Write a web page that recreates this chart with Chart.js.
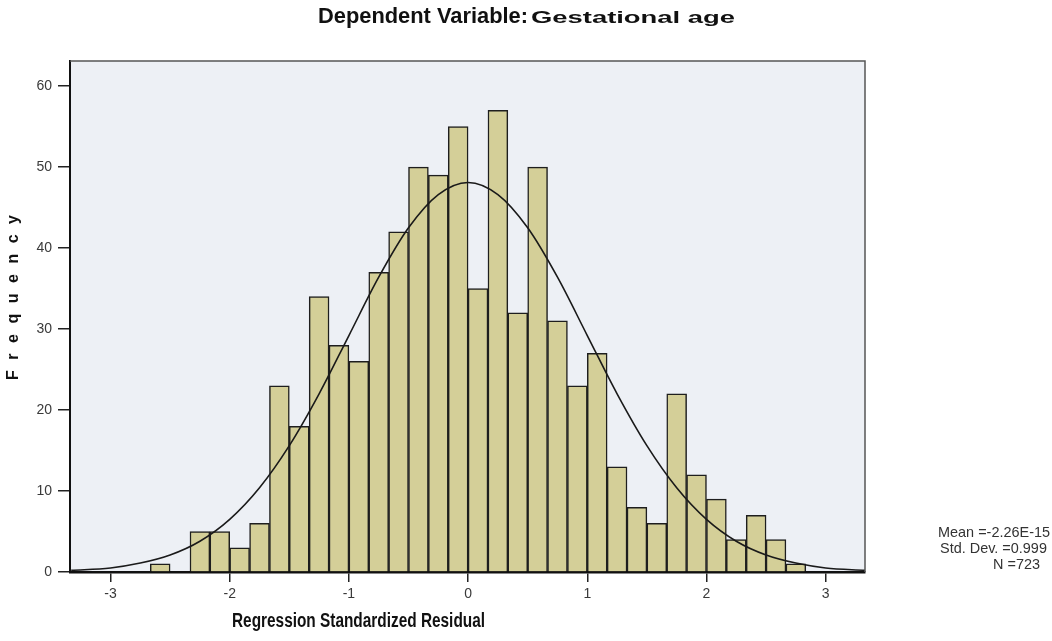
<!DOCTYPE html>
<html>
<head>
<meta charset="utf-8">
<script src="https://cdn.jsdelivr.net/npm/chart.js@4.4.1/dist/chart.umd.min.js"></script>
<style>
  body { margin: 0; background: #fff; }
  #wrap { width: 1052px; height: 641px; position: relative; }
</style>
</head>
<body>
<div id="wrap"><canvas id="histo"></canvas></div>
<script>
// bin centres (bin width 1/6) and counts
var binCenters = [-2.5833, -2.4167, -2.25, -2.0833, -1.9167, -1.75, -1.5833, -1.4167, -1.25, -1.0833,
  -0.9167, -0.75, -0.5833, -0.4167, -0.25, -0.0833, 0.0833, 0.25, 0.4167, 0.5833,
  0.75, 0.9167, 1.0833, 1.25, 1.4167, 1.5833, 1.75, 1.9167, 2.0833, 2.25, 2.4167, 2.5833, 2.75];
var counts = [1, 0, 5, 5, 3, 6, 23, 18, 34, 28,
  26, 37, 42, 50, 49, 55, 35, 57, 32, 50,
  31, 23, 27, 13, 8, 6, 22, 12, 9, 4, 7, 4, 1];

// normal curve
var curveX = [-3.33, -3, -2.75, -2.5, -2.25, -2, -1.75, -1.5, -1.25, -1, -0.75, -0.5, -0.25, 0,
  0.25, 0.5, 0.75, 1, 1.25, 1.5, 1.75, 2, 2.25, 2.5, 2.75, 3, 3.33];
var curveY = [0.2, 0.5, 1.1, 2.1, 3.8, 6.5, 10.4, 15.6, 22.0, 29.2, 36.4, 42.5, 46.6, 48.1,
  46.6, 42.5, 36.4, 29.2, 22.0, 15.6, 10.4, 6.5, 3.8, 2.1, 1.1, 0.5, 0.2];

var xTicks = [-3, -2, -1, 0, 1, 2, 3];
var yTicks = [0, 10, 20, 30, 40, 50, 60];

var titleParts = ['Dependent Variable:', 'Gestational age'];
var xTitle = 'Regression Standardized Residual';
var yTitle = 'Frequency';
var statLines = ['Mean =-2.26E-15', 'Std. Dev. =0.999', 'N =723'];

// draw text squeezed/stretched horizontally to a given width (narrow Arial look)
function drawWide(ctx, text, x, y, font, width) {
  ctx.save();
  ctx.font = font;
  var k = width / ctx.measureText(text).width;
  ctx.translate(x, y);
  ctx.scale(k, 1);
  ctx.fillText(text, 0, 0);
  ctx.restore();
  return k;
}

var decor = {
  id: 'decor',
  beforeDraw: function (chart) {
    var a = chart.chartArea, ctx = chart.ctx;
    ctx.save();
    ctx.fillStyle = '#edf0f5';
    ctx.fillRect(a.left, a.top, a.right - a.left, a.bottom - a.top);
    ctx.restore();
  },
  afterDraw: function (chart) {
    var a = chart.chartArea, ctx = chart.ctx;
    ctx.save();
    // top and right frame
    ctx.strokeStyle = '#555';
    ctx.lineWidth = 1.5;
    ctx.beginPath();
    ctx.moveTo(a.left, a.top);
    ctx.lineTo(a.right, a.top);
    ctx.lineTo(a.right, a.bottom);
    ctx.stroke();

    ctx.fillStyle = '#111';
    ctx.textBaseline = 'middle';
    ctx.textAlign = 'left';
    // title
    drawWide(ctx, titleParts[0], 318, 17, 'bold 22px "Liberation Sans"', 210);
    drawWide(ctx, titleParts[1], 531, 18, 'bold 17px "Liberation Sans"', 204);

    // x title
    drawWide(ctx, xTitle, 232, 621, 'bold 20px "Liberation Sans"', 253);

    // y title, spaced letters
    ctx.translate(14, 298);
    ctx.rotate(-Math.PI / 2);
    ctx.font = 'bold 16px "Liberation Sans"';
    var chars = yTitle.split('');
    var plain = ctx.measureText(yTitle).width;
    var gap = (165 - plain) / (chars.length - 1);
    var px = -82;
    chars.forEach(function (c) {
      ctx.fillText(c, px, 0);
      px += ctx.measureText(c).width + gap;
    });
    ctx.setTransform(1, 0, 0, 1, 0, 0);

    // stats
    ctx.fillStyle = '#333';
    var k = drawWide(ctx, statLines[0], 938, 533, '15px "Liberation Sans"', 112);
    ctx.font = '15px "Liberation Sans"';
    drawWide(ctx, statLines[1], 940, 549, '15px "Liberation Sans"', ctx.measureText(statLines[1]).width * k);
    drawWide(ctx, statLines[2], 993, 565, '15px "Liberation Sans"', ctx.measureText(statLines[2]).width * k);
    ctx.restore();
  }
};

var ctx = document.getElementById('histo').getContext('2d');
var chart = new Chart(ctx, {
  type: 'bar',
  data: {
    datasets: [{
      type: 'line',
      data: curveX.map(function (x, i) { return { x: x, y: curveY[i] }; }),
      borderColor: '#1a1a1a',
      borderWidth: 1.6,
      pointRadius: 0,
      cubicInterpolationMode: 'monotone',
      fill: false,
      order: 0
    }, {
      type: 'bar',
      data: binCenters.map(function (x, i) { return { x: x, y: counts[i] }; }),
      backgroundColor: '#d4cf98',
      borderColor: '#1e1e1e',
      borderWidth: 1.5,
      barPercentage: 1,
      categoryPercentage: 1,
      order: 1
    }]
  },
  options: {
    responsive: true,
    maintainAspectRatio: false,
    animation: false,
    layout: { padding: { left: 0, top: 61, right: 187, bottom: 29 } },
    plugins: {
      legend: { display: false },
      tooltip: { enabled: false },
      title: { display: false }
    },
    scales: {
      x: {
        type: 'linear',
        min: -3.34,
        max: 3.33,
        offset: false,
        afterBuildTicks: function (s) { s.ticks = xTicks.map(function (v) { return { value: v }; }); },
        afterFit: function (s) { s.height = 40; },
        grid: { offset: false, drawOnChartArea: false, drawTicks: true, tickLength: 10, color: '#222', lineWidth: 1.5 },
        border: { display: true, color: '#111', width: 2.5 },
        ticks: { color: '#3a3a3a', font: { family: '"Liberation Sans"', size: 14 }, padding: 4, maxRotation: 0 }
      },
      y: {
        min: 0,
        max: 63.1,
        afterBuildTicks: function (s) { s.ticks = yTicks.map(function (v) { return { value: v }; }); },
        afterFit: function (s) { s.width = 70; },
        grid: { drawOnChartArea: false, drawTicks: true, tickLength: 12, color: '#222', lineWidth: 1.5 },
        border: { display: true, color: '#111', width: 2 },
        ticks: { color: '#3a3a3a', font: { family: '"Liberation Sans"', size: 14 }, padding: 6 }
      }
    }
  },
  plugins: [decor]
});
</script>
</body>
</html>
